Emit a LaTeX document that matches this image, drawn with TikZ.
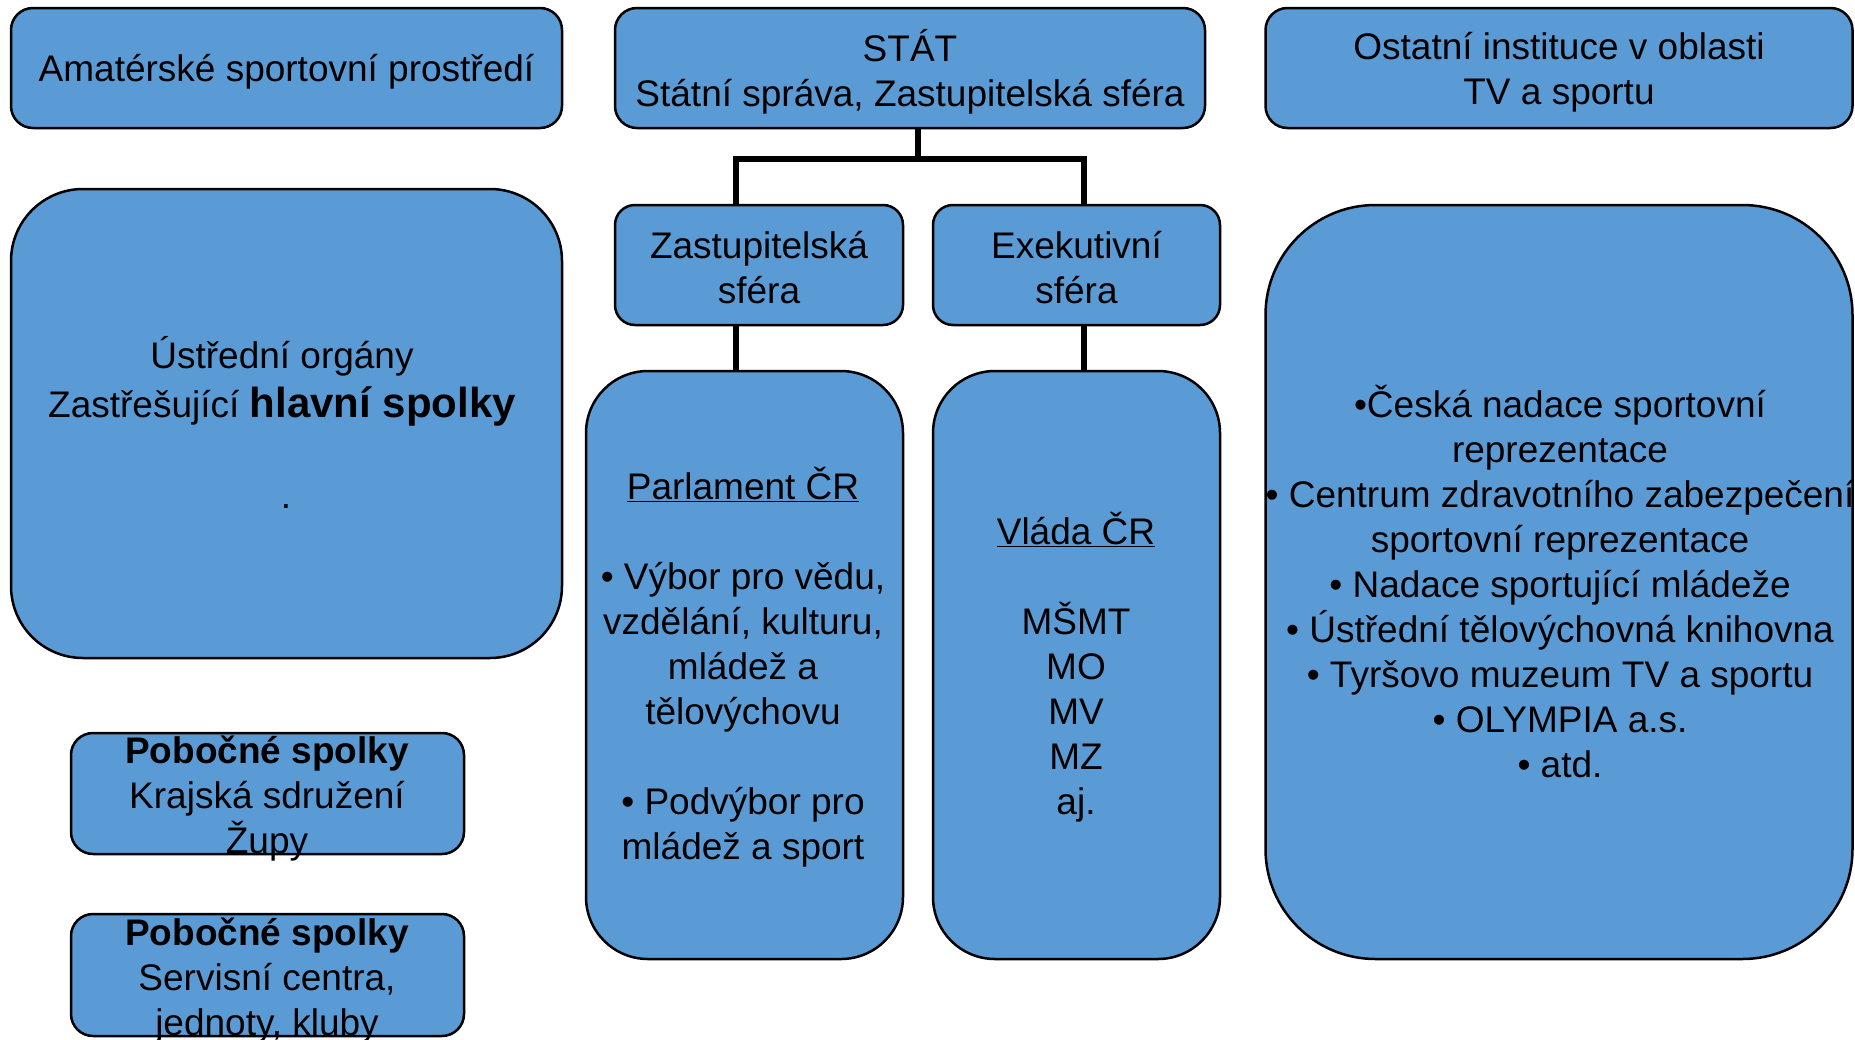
\documentclass[tikz,border=0pt]{standalone}
\usepackage{fontspec}
\setmainfont{Liberation Sans}
\usetikzlibrary{backgrounds}
\definecolor{boxblue}{RGB}{91,155,213}
\begin{document}
\begin{tikzpicture}[x=1pt,y=-1pt,
  box/.style={draw=black, line width=2.5pt, fill=boxblue, rectangle, inner sep=0pt},
  txt/.style={align=center, inner sep=0pt, font=\fontsize{37}{45}\selectfont},
  conn/.style={draw=black, line width=5.5pt}]
\useasboundingbox (0,0) rectangle (1855,1039);

% boxes
\node[box, rounded corners=22pt, minimum width=551pt, minimum height=120pt] (amat) at (286.5,68) {};
\node[box, rounded corners=22pt, minimum width=590pt, minimum height=120pt] (stat) at (910,68) {};
\node[box, rounded corners=22pt, minimum width=587pt, minimum height=120pt] (ost) at (1559,68) {};
\node[box, rounded corners=72pt, minimum width=551pt, minimum height=469pt] (ustr) at (286.5,423.5) {};
\node[box, rounded corners=20pt, minimum width=288pt, minimum height=120pt] (zast) at (759,265) {};
\node[box, rounded corners=20pt, minimum width=287pt, minimum height=120pt] (exek) at (1076.5,265) {};
\node[box, rounded corners=62pt, minimum width=317pt, minimum height=588pt] (parl) at (744.5,665) {};
\node[box, rounded corners=62pt, minimum width=287pt, minimum height=588pt] (vlada) at (1076.5,665) {};
\node[box, rounded corners=110pt, minimum width=587pt, minimum height=754pt] (inst) at (1559,582) {};
\node[box, rounded corners=22pt, minimum width=393pt, minimum height=121pt] (pob1) at (267.5,793.5) {};
\node[box, rounded corners=22pt, minimum width=393pt, minimum height=122pt] (pob2) at (267.5,975) {};

% texts
\node[txt] (amatT) at (286.5,72) {Amatérské sportovní prostředí};
\node[txt] (statT) at (910,72) {STÁT\\Státní správa, Zastupitelská sféra};
\node[txt] (ostT) at (1559,72) {Ostatní instituce v oblasti\\TV a sportu};
\node[txt, anchor=north] (ustrT) at (282,336) {Ústřední orgány\\[4pt]Zastřešující {\bfseries\fontsize{42}{48}\selectfont hlavní spolky}\\[46pt]\hspace*{8pt}.};
\node[txt] (zastT) at (759,267.5) {Zastupitelská\\sféra};
\node[txt] (exekT) at (1076.5,267.5) {Exekutivní\\sféra};
\node[txt] (parlT) at (743,667) {\underline{Parlament ČR}\\[45pt]• Výbor pro vědu,\\vzdělání, kulturu,\\mládež a\\tělovýchovu\\[45pt]• Podvýbor pro\\mládež a sport};
\node[txt] (vladaT) at (1076,667) {\underline{Vláda ČR}\\[45pt]MŠMT\\MO\\MV\\MZ\\aj.};
\node[txt] (instT) at (1560,581.5) {•Česká nadace sportovní\\reprezentace\\• Centrum zdravotního zabezpečení\\sportovní reprezentace\\• Nadace sportující mládeže\\• Ústřední tělovýchovná knihovna\\• Tyršovo muzeum TV a sportu\\• OLYMPIA a.s.\\• atd.};
\node[txt] (pob1T) at (267,798.5) {{\bfseries Pobočné spolky}\\Krajská sdružení\\Župy};
\node[txt] (pob2T) at (267,980.5) {{\bfseries Pobočné spolky}\\Servisní centra,\\jednoty, kluby};

% connectors
\coordinate (busL) at (736,159);
\coordinate (busR) at (1084,159);
\coordinate (stem) at (918,159);
\begin{scope}[on background layer]
\draw[conn] (stem |- stat.south) -- (stem);
\draw[conn] (busL |- zast.north) -- (busL) -- (busR) -- (busR |- exek.north);
\draw[conn] (busL |- zast.south) -- (busL |- parl.north);
\draw[conn] (busR |- exek.south) -- (busR |- vlada.north);
\end{scope}
\end{tikzpicture}
\end{document}
